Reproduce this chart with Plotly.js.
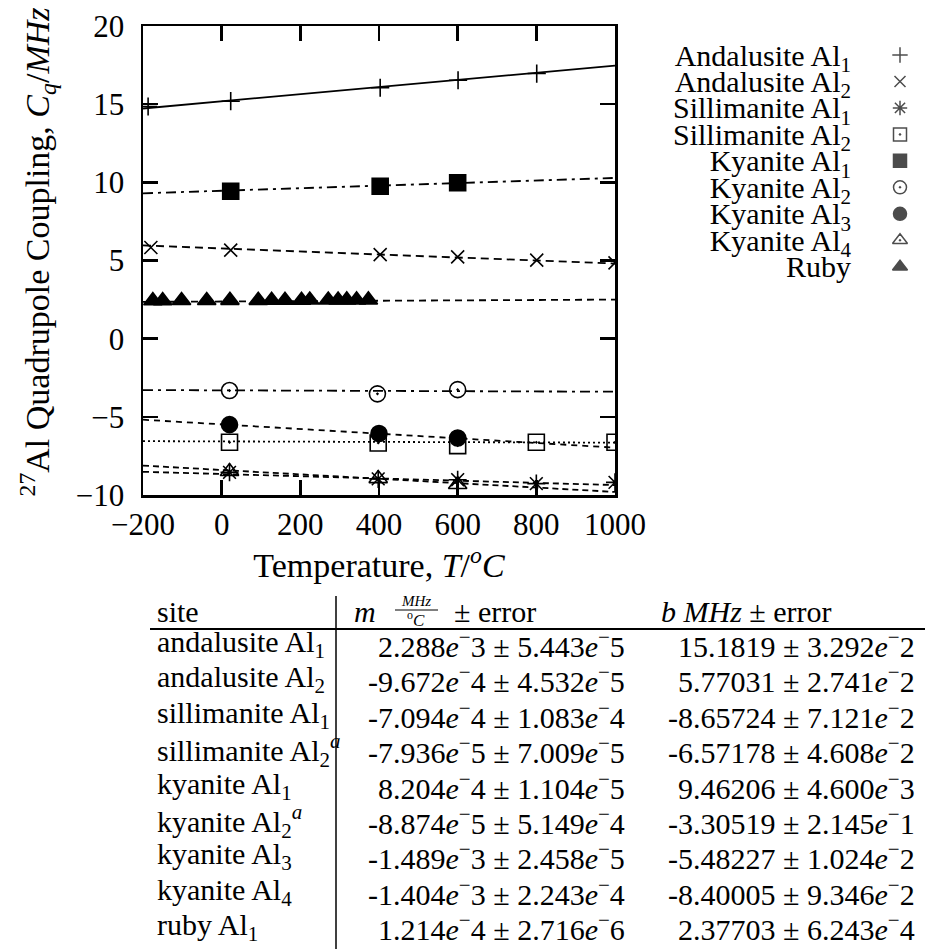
<!DOCTYPE html>
<html><head><meta charset="utf-8">
<script src="https://cdn.plot.ly/plotly-3.0.1.min.js"></script>
<style>html,body{margin:0;padding:0;background:#fff}#chart{width:928px;height:949px}</style>
</head><body><div id="chart"></div>
<script>
// ---------------- data ----------------
const seriesNames = ['Andalusite Al1','Andalusite Al2','Sillimanite Al1','Sillimanite Al2','Kyanite Al1','Kyanite Al2','Kyanite Al3','Kyanite Al4','Ruby'];
const seriesLabels = ['Andalusite Al<sub>1</sub>','Andalusite Al<sub>2</sub>','Sillimanite Al<sub>1</sub>','Sillimanite Al<sub>2</sub>','Kyanite Al<sub>1</sub>','Kyanite Al<sub>2</sub>','Kyanite Al<sub>3</sub>','Kyanite Al<sub>4</sub>','Ruby'];

const andalusiteAl1T  = [-187, 23, 403, 601, 801];
const andalusiteAl1Cq = [14.85, 15.19, 16.05, 16.53, 16.96];
const andalusiteAl2T  = [-180, 23, 403, 600, 801, 1000];
const andalusiteAl2Cq = [5.83, 5.66, 5.38, 5.23, 5.02, 4.85];
const sillimaniteAl1T  = [20, 398, 600, 800, 1000];
const sillimaniteAl1Cq = [-8.55, -8.97, -9.02, -9.27, -9.19];
const sillimaniteAl2T  = [20, 398, 600, 800, 1000];
const sillimaniteAl2Cq = [-6.63, -6.67, -6.84, -6.63, -6.63];
const kyaniteAl1T  = [23, 403, 600];
const kyaniteAl1Cq = [9.43, 9.75, 9.97];
const kyaniteAl2T  = [20, 396, 600];
const kyaniteAl2Cq = [-3.32, -3.53, -3.26];
const kyaniteAl3T  = [20, 400, 600];
const kyaniteAl3Cq = [-5.50, -6.07, -6.35];
const kyaniteAl4T  = [20, 398, 600];
const kyaniteAl4Cq = [-8.50, -8.95, -9.33];
const rubyT  = [-175, -150, -102, -38, 21, 93, 127, 161, 203, 224, 271, 296, 318, 343, 373];
const rubyCq = [2.43, 2.43, 2.44, 2.44, 2.45, 2.45, 2.46, 2.46, 2.46, 2.47, 2.47, 2.47, 2.48, 2.48, 2.48];

// table of linear fits
const tableSites = ['andalusite Al<sub>1</sub>','andalusite Al<sub>2</sub>','sillimanite Al<sub>1</sub>','sillimanite Al<sub>2</sub><sup><i>a</i></sup>','kyanite Al<sub>1</sub>','kyanite Al<sub>2</sub><sup><i>a</i></sup>','kyanite Al<sub>3</sub>','kyanite Al<sub>4</sub>','ruby Al<sub>1</sub>'];
const slopeValues     = ['2.288e-3','-9.672e-4','-7.094e-4','-7.936e-5','8.204e-4','-8.874e-5','-1.489e-3','-1.404e-3','1.214e-4'];
const slopeErrors     = ['5.443e-5','4.532e-5','1.083e-4','7.009e-5','1.104e-5','5.149e-4','2.458e-5','2.243e-4','2.716e-6'];
const interceptValues = ['15.1819','5.77031','-8.65724','-6.57178','9.46206','-3.30519','-5.48227','-8.40005','2.37703'];
const interceptErrors = ['3.292e-2','2.741e-2','7.121e-2','4.608e-2','4.600e-3','2.145e-1','1.024e-2','9.346e-2','6.243e-4'];
const fitRange = [-200, 1000];

const xTickVals = [-200, 0, 200, 400, 600, 800, 1000];
const yTickVals = [-10, -5, 0, 5, 10, 15, 20];

// ---------------- styles ----------------
const seriesT  = [andalusiteAl1T, andalusiteAl2T, sillimaniteAl1T, sillimaniteAl2T, kyaniteAl1T, kyaniteAl2T, kyaniteAl3T, kyaniteAl4T, rubyT];
const seriesCq = [andalusiteAl1Cq, andalusiteAl2Cq, sillimaniteAl1Cq, sillimaniteAl2Cq, kyaniteAl1Cq, kyaniteAl2Cq, kyaniteAl3Cq, kyaniteAl4Cq, rubyCq];
const symbols = ['cross-thin-open','x-thin-open','asterisk-open','square-open-dot','square','circle-open-dot','circle','triangle-up-open-dot','triangle-up'];
const plotSizes = [13, 13, 15, 16, 16, 16, 16, 16, 16];
const keySizes  = [11, 11, 12, 13, 13, 13, 13, 13, 13];
const dashes = ['solid','8px,5px','6px,4px','2px,3px','10px,5px,3px,5px','10px,5px,3px,5px','6px,5px','6px,4px','7px,5px'];

const FONT = 'Liberation Serif, Times New Roman, DejaVu Serif, serif';
const W = 928, H = 949;
const px = v => v / W;
const py = v => 1 - v / H;

const traces = [];
seriesNames.forEach((name, i) => {
  const m = parseFloat(slopeValues[i]), b = parseFloat(interceptValues[i]);
  traces.push({
    type: 'scatter', mode: 'lines', name: name + ' fit', showlegend: false,
    x: fitRange, y: fitRange.map(t => m * t + b),
    line: {color: 'black', width: 1.8, dash: dashes[i]}, hoverinfo: 'skip'
  });
  traces.push({
    type: 'scatter', mode: 'markers', name: name, showlegend: false,
    x: seriesT[i], y: seriesCq[i],
    marker: {symbol: symbols[i], size: plotSizes[i], color: 'black', line: {color: 'black', width: 1.6}}
  });
});
// key (legend) drawn on its own categorical axis
traces.push({
  type: 'scatter', mode: 'markers', showlegend: false, xaxis: 'x2', yaxis: 'y2',
  x: seriesNames.map(() => 0), y: seriesNames,
  marker: {symbol: symbols, size: keySizes, color: 'black', line: {color: 'black', width: 1.5}},
  hoverinfo: 'skip'
});

// table annotations
const fmtSci = s => s.replace(/e-(\d+)/, '<i>e</i><sup>−</sup>$1');
const annotations = [];
const addText = (text, x, y, anchor, size) => annotations.push({
  text, x: px(x), y: py(y), xref: 'paper', yref: 'paper', xanchor: anchor, yanchor: 'middle',
  showarrow: false, font: {family: FONT, size: size || 30, color: 'black'}
});
const headY = 611;
addText('site', 155, headY, 'left');
addText('<i>m</i>', 352, headY, 'left');
addText('<i>MHz</i>', 416, 601, 'center', 15);
addText('<sup>o</sup><i>C</i>', 416, 619, 'center', 17);
addText('± error', 452, headY, 'left');
addText('<i>b</i> <i>MHz</i> ± error', 659, headY, 'left');
tableSites.forEach((site, i) => {
  const y = 644 + i * 35.4;
  addText(site, 155, y, 'left');
  addText(fmtSci(slopeValues[i]) + ' ± ' + fmtSci(slopeErrors[i]), 627, y, 'right');
  addText(fmtSci(interceptValues[i]) + ' ± ' + fmtSci(interceptErrors[i]), 917, y, 'right');
});

const shapes = [
  {type: 'line', xref: 'paper', yref: 'paper', x0: px(150), x1: px(925), y0: py(629), y1: py(629), line: {color: 'black', width: 2}},
  {type: 'line', xref: 'paper', yref: 'paper', x0: px(336), x1: px(336), y0: py(596), y1: py(949), line: {color: 'black', width: 1.5}},
  {type: 'line', xref: 'paper', yref: 'paper', x0: px(395), x1: px(438), y0: py(610), y1: py(610), line: {color: 'black', width: 1}}
];

const axisCommon = {
  showline: true, mirror: 'ticks', linewidth: 2.5, linecolor: 'black',
  ticks: 'inside', ticklen: 15, tickwidth: 2.5, tickcolor: 'black',
  showgrid: false, zeroline: false, tickmode: 'array',
  tickfont: {family: FONT, size: 31, color: 'black'}
};

const layout = {
  width: W, height: H, margin: {l: 0, r: 0, t: 0, b: 0},
  paper_bgcolor: 'white', plot_bgcolor: 'white', showlegend: false,
  font: {family: FONT, color: 'black'},
  xaxis: Object.assign({}, axisCommon, {
    domain: [px(143), px(615)], range: [-200, 1000], tickvals: xTickVals,
    ticklabelstandoff: 0, anchor: 'y',
    title: {text: 'Temperature, <i>T</i>/<sup><i>o</i></sup><i>C</i>', font: {family: FONT, size: 34, color: 'black'}, standoff: 0}
  }),
  yaxis: Object.assign({}, axisCommon, {
    domain: [py(495), py(26)], range: [-10, 20], tickvals: yTickVals,
    ticklabelstandoff: 10, anchor: 'x',
    title: {text: '&nbsp;&nbsp;<sup>27</sup>Al Quadrupole Coupling, <i>C<sub>q</sub></i>/<i>MHz</i>', font: {family: FONT, size: 34, color: 'black'}, standoff: 16}
  }),
  xaxis2: {domain: [px(852), 1], range: [-48, 28], visible: false, anchor: 'y2', fixedrange: true},
  yaxis2: {
    domain: [py(279.9), py(41.8)], anchor: 'x2', type: 'category', range: [8.5, -0.5],
    showline: false, showgrid: false, zeroline: false, ticks: '',
    tickmode: 'array', tickvals: seriesNames, ticktext: seriesLabels,
    tickfont: {family: FONT, size: 30, color: 'black'}, fixedrange: true
  },
  annotations, shapes
};

Plotly.newPlot('chart', traces, layout, {displayModeBar: false, staticPlot: true});
</script>
</body></html>
